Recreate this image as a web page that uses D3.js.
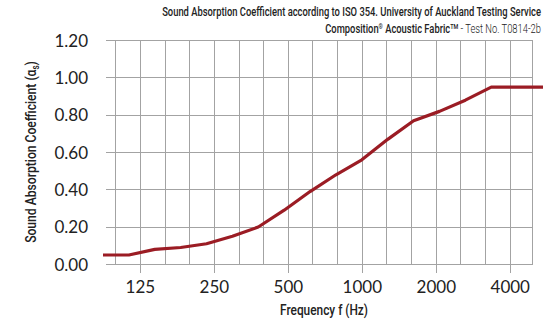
<!DOCTYPE html>
<html>
<head>
<meta charset="utf-8">
<script src="https://cdn.jsdelivr.net/npm/d3@7"></script>
<style>
  body { margin: 0; background: #fff; }
  svg { display: block; }
  .cond { font-family: "Roboto", "Liberation Sans", sans-serif; fill: #222; }
  .tick { font-family: "Lato", "Noto Sans", sans-serif; font-size: 17px; fill: #222; }
</style>
</head>
<body>
<svg id="chart" width="558" height="323"></svg>
<script>
// third-octave bands
const bands = [100, 125, 160, 200, 250, 315, 400, 500, 630, 800, 1000, 1250, 1600, 2000, 2500, 3150, 4000, 5000];
const absorption = [0.05, 0.05, 0.08, 0.09, 0.11, 0.15, 0.20, 0.29, 0.39, 0.48, 0.56, 0.67, 0.77, 0.82, 0.88, 0.95, 0.95, 0.95];
const xTickLabels = [125, 250, 500, 1000, 2000, 4000];
const yTicks = [0, 0.2, 0.4, 0.6, 0.8, 1.0, 1.2];

const svg = d3.select("#chart");
const plot = { left: 106, right: 532.7, top: 40.5, bottom: 264.3 };
const gridColor = "#a3a3a3";

const y = d3.scaleLinear().domain([0, 1.2]).range([plot.bottom, plot.top]);
// grid / label positions
const xGrid = d3.scalePoint().domain(bands).range([115.7, 115.7 + 24.66 * 17]);
// the measured curve is spread over its own span
const xLine = d3.scalePoint().domain(bands).range([103, 543]);

const g = svg.append("g").attr("shape-rendering", "crispEdges");

// horizontal grid (left part acts as y tick)
g.selectAll("line.h")
    .data(yTicks)
    .join("line")
        .attr("class", "h")
        .attr("x1", plot.left)
        .attr("x2", plot.right)
        .attr("y1", d => y(d))
        .attr("y2", d => y(d))
        .attr("stroke", gridColor);

// vertical grid, labelled bands get a tick below the axis
g.selectAll("line.v")
    .data(bands.filter(b => xGrid(b) < plot.right - 1))
    .join("line")
        .attr("class", "v")
        .attr("x1", d => xGrid(d))
        .attr("x2", d => xGrid(d))
        .attr("y1", plot.top)
        .attr("y2", d => xTickLabels.includes(d) ? plot.bottom + 9 : plot.bottom)
        .attr("stroke", gridColor);

g.append("line")
    .attr("x1", plot.right).attr("x2", plot.right)
    .attr("y1", plot.top).attr("y2", plot.bottom)
    .attr("stroke", gridColor);

// y tick labels
svg.selectAll("text.ylab")
    .data(yTicks)
    .join("text")
        .attr("class", "tick ylab")
        .attr("x", 88)
        .attr("y", d => y(d) + 6.3)
        .attr("text-anchor", "end")
        .text(d => d.toFixed(2));

// x tick labels
svg.selectAll("text.xlab")
    .data(xTickLabels)
    .join("text")
        .attr("class", "tick xlab")
        .attr("x", d => xGrid(d))
        .attr("y", 293.3)
        .attr("text-anchor", "middle")
        .text(d => d);

// curve
const line = d3.line()
    .x((d, i) => xLine(bands[i]))
    .y(d => y(d));

svg.append("path")
    .datum(absorption)
    .attr("d", line)
    .attr("fill", "none")
    .attr("stroke", "#9b1c24")
    .attr("stroke-width", 3.2)
    .attr("stroke-linejoin", "round");

// squeeze a text horizontally to a given width (condensed look)
function condense(gSel, width){
    const t = gSel.select("text").node();
    const w = t.getComputedTextLength();
    const tr = gSel.attr("data-pos");
    gSel.attr("transform", tr + " scale(" + (width / w) + ",1)");
}

// titles, right aligned
const t1g = svg.append("g").attr("data-pos", "translate(541,16)");
t1g.append("text")
    .attr("class", "cond")
    .attr("text-anchor", "end")
    .attr("font-size", 12)
    .attr("font-weight", 500)
    .text("Sound Absorption Coefficient according to ISO 354. University of Auckland Testing Service");
condense(t1g, 379);

const t2g = svg.append("g").attr("data-pos", "translate(541,33)");
const t2 = t2g.append("text")
    .attr("class", "cond")
    .attr("text-anchor", "end")
    .attr("font-size", 12)
    .attr("font-weight", 500);
t2.append("tspan").text("Composition");
t2.append("tspan").attr("font-size", 7).attr("baseline-shift", "4").text("®");
t2.append("tspan").text(" Acoustic Fabric");
t2.append("tspan").attr("font-size", 7).attr("baseline-shift", "4").text("TM");
t2.append("tspan").attr("font-weight", 300).text(" - Test No. T0814-2b");
condense(t2g, 216);

// axis titles
const xtg = svg.append("g").attr("data-pos", "translate(324,315)");
xtg.append("text")
    .attr("class", "cond")
    .attr("text-anchor", "middle")
    .attr("font-size", 15)
    .attr("font-weight", 500)
    .text("Frequency f (Hz)");
condense(xtg, 88);

const ytg = svg.append("g").attr("data-pos", "translate(36,152) rotate(-90)");
const yt = ytg.append("text")
    .attr("class", "cond")
    .attr("text-anchor", "middle")
    .attr("font-size", 15)
    .attr("font-weight", 500);
yt.append("tspan").text("Sound Absorption Coefficient (α");
yt.append("tspan").attr("font-size", 10).attr("baseline-shift", "-3").text("s");
yt.append("tspan").text(")");
condense(ytg, 182);
</script>
</body>
</html>
